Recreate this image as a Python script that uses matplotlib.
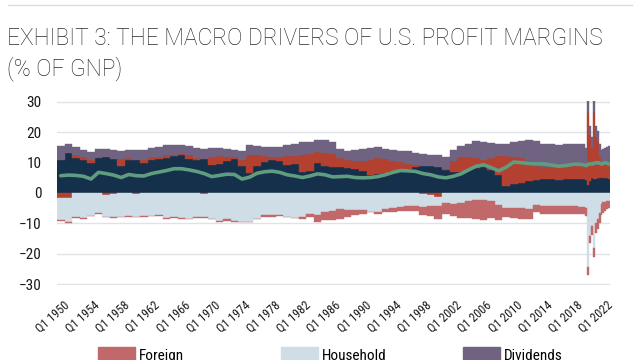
import numpy as np
import matplotlib
matplotlib.use("Agg")
import matplotlib.pyplot as plt
from matplotlib import font_manager
from matplotlib.patches import Patch
from matplotlib.lines import Line2D
import matplotlib.transforms as mtransforms

# ---------------- data (% of GNP) ----------------
years = list(range(1950, 2020))
investment = [11.0, 13.2, 11.5, 10.8, 9.8, 11.6, 11.8, 11.2, 8.8, 11.0,
              11.0, 9.8, 11.0, 11.3, 11.6, 12.3, 12.6, 11.2, 11.0, 11.2,
              9.2, 9.5, 10.5, 11.2, 8.8, 6.5, 9.0, 10.3, 11.0, 10.7,
              9.2, 9.6, 7.0, 7.4, 9.8, 9.0, 8.5, 8.4, 8.2, 8.0,
              7.1, 5.9, 6.2, 6.6, 7.3, 7.4, 7.8, 8.5, 8.9, 8.8,
              8.7, 7.5, 6.9, 7.0, 7.7, 8.2, 8.5, 7.6, 5.9, 2.2,
              3.0, 3.4, 3.9, 4.2, 4.5, 4.5, 4.3, 4.5, 4.7, 4.7]
government = [-1.5, -1.8, 1.0, 1.2, 1.2, 0.2, -0.6, -0.4, 2.4, 0.4,
              -0.4, 1.2, 0.8, 0.4, 0.8, 0.2, 0.3, 1.2, 0.6, -0.4,
              2.5, 2.6, 1.3, 0.5, 2.0, 6.0, 3.5, 2.0, 1.0, 1.0,
              3.0, 2.6, 5.5, 5.5, 3.8, 4.2, 4.4, 3.2, 2.6, 2.5,
              3.5, 5.0, 5.4, 4.6, 3.4, 2.7, 1.8, 0.6, -0.4, -0.8,
              -1.3, 0.3, 3.8, 4.8, 4.0, 3.2, 2.4, 3.8, 6.4, 10.0,
              9.0, 8.1, 6.6, 4.8, 4.0, 4.0, 4.3, 4.0, 4.3, 4.6]
household = [-7.4, -7.6, -8.0, -8.1, -7.6, -6.7, -7.3, -7.6, -7.8, -7.5,
             -7.4, -7.7, -7.6, -7.4, -8.2, -8.0, -8.2, -8.6, -7.9, -7.6,
             -8.6, -9.2, -8.6, -9.3, -9.4, -9.6, -8.5, -7.3, -7.2, -7.4,
             -7.9, -8.1, -8.0, -6.8, -7.2, -6.2, -5.8, -5.4, -5.7, -5.6,
             -5.6, -6.2, -6.3, -5.3, -4.9, -4.6, -4.4, -4.2, -4.3, -3.6,
             -3.0, -3.2, -3.5, -3.3, -2.6, -2.2, -2.4, -2.5, -3.8, -5.0,
             -4.8, -4.8, -5.2, -3.8, -4.2, -4.3, -4.2, -4.4, -4.3, -4.6]
foreign = [-0.4, -0.4, -0.2, -0.5, -0.1, -0.1, -0.1, -0.2, -0.1, -0.3,
           -0.2, -0.1, -0.1, -0.1, -0.2, -0.1, -0.2, -0.1, -0.2, -0.3,
           -0.1, -0.3, -0.5, -0.2, -0.3, -0.1, -0.1, -0.6, -0.6, -0.3,
           -0.1, -0.2, -0.4, -1.2, -2.4, -2.8, -3.2, -3.0, -2.2, -1.6,
           -1.2, -0.2, -0.6, -1.1, -1.5, -1.4, -1.6, -1.8, -2.6, -3.2,
           -4.1, -3.8, -4.2, -4.8, -5.7, -6.3, -6.6, -5.8, -5.1, -3.0,
           -3.4, -3.6, -3.4, -2.6, -2.6, -2.6, -2.6, -2.5, -2.5, -2.3]
dividends = [4.5, 3.0, 2.6, 2.3, 2.6, 2.6, 2.8, 2.9, 2.5, 2.6,
             3.0, 3.0, 3.0, 3.4, 3.3, 3.3, 3.0, 3.0, 3.1, 3.2,
             3.0, 2.6, 2.6, 2.5, 3.0, 3.2, 3.0, 3.0, 3.1, 3.3,
             3.6, 3.8, 4.3, 4.0, 3.8, 4.2, 3.8, 3.0, 3.1, 3.5,
             3.8, 3.8, 3.4, 3.3, 3.4, 3.8, 4.1, 4.2, 3.8, 3.8,
             3.8, 4.0, 3.3, 3.6, 4.5, 5.6, 6.0, 5.2, 3.7, 4.1,
             4.8, 5.5, 6.8, 8.0, 7.8, 7.5, 7.2, 7.5, 7.0, 6.7]
profit_margin = [5.7, 5.9, 5.8, 5.5, 4.6, 6.8, 6.4, 5.9, 5.1, 6.1,
                 5.7, 5.6, 6.4, 6.9, 7.4, 8.0, 8.0, 7.6, 7.1, 6.4,
                 5.4, 5.8, 6.2, 6.1, 4.6, 5.2, 6.5, 7.0, 7.2, 6.8,
                 6.0, 5.6, 5.1, 5.6, 6.3, 6.0, 5.3, 5.4, 5.5, 5.1,
                 5.0, 5.1, 5.4, 6.0, 6.8, 7.4, 7.3, 7.1, 6.4, 6.0,
                 5.3, 5.0, 5.5, 6.3, 7.6, 8.8, 9.3, 8.4, 7.3, 8.5,
                 10.2, 10.0, 9.7, 9.6, 9.6, 9.2, 8.8, 9.1, 9.5, 9.4]

recent_quarters = ["2020Q1", "2020Q2", "2020Q3", "2020Q4", "2021Q1", "2021Q2",
                   "2021Q3", "2021Q4", "2022Q1", "2022Q2", "2022Q3", "2022Q4",
                   "2023Q1"]
investment_q = [4.3, 2.5, 4.0, 4.8, 4.5, 4.6, 4.8, 5.0, 5.2, 5.0, 4.9, 4.8, 4.6]
government_q = [5.0, 24.0, 15.0, 10.0, 22.0, 14.0, 12.0, 7.0, 4.0, 4.5, 4.8, 5.0, 5.5]
household_q = [-5.0, -24.5, -14.0, -11.0, -18.0, -10.0, -8.5, -6.5, -3.5, -3.0, -2.8, -2.5, -2.5]
foreign_q = [-2.5, -2.5, -2.5, -2.8, -3.0, -3.2, -3.3, -3.5, -3.8, -3.6, -3.2, -2.8, -2.5]
dividends_q = [5.5, 4.0, 3.0, 3.5, 4.0, 3.5, 3.5, 4.0, 5.0, 5.0, 5.2, 5.5, 5.5]
profit_margin_q = [9.0, 9.5, 9.6, 9.5, 9.8, 9.9, 10.0, 9.8, 9.5, 9.8, 10.0, 9.8, 9.5]

# ---------------- fonts ----------------
avail = {f.name for f in font_manager.fontManager.ttflist}
def pick(*names):
    for n in names:
        if n in avail:
            return n
    return "DejaVu Sans"
cond_font = pick("Roboto Condensed", "Liberation Sans Narrow", "Roboto")
title_font = pick("Roboto", "Lato", "DejaVu Sans")

NAVY = "#15304a"
RED = "#b4402f"
PINK = "#c1686b"
LIGHT = "#cfdde6"
PURPLE = "#6f6381"
GREEN = "#5f9c80"
GRID = "#dde3e6"

# ---------------- periods -> quarter index positions ----------------
lefts, widths, centers = [], [], []
for y in years:
    k = (y - 1950) * 4
    lefts.append(k - 0.5)
    widths.append(4)
    centers.append(k + 1.5)
for q in recent_quarters:
    k = (int(q[:4]) - 1950) * 4 + int(q[-1]) - 1
    lefts.append(k - 0.5)
    widths.append(1)
    centers.append(k)
last_k = centers[-1]

inv = np.array(investment + investment_q)
gov = np.array(government + government_q)
hh = np.array(household + household_q)
fgn = np.array(foreign + foreign_q)
div = np.array(dividends + dividends_q)
margin = np.array(profit_margin + profit_margin_q)

fig = plt.figure(figsize=(6.4, 3.6), dpi=100)
ax = fig.add_axes([57 / 640, 75 / 360, 553 / 640, 184 / 360])

series = [("Investment", inv, NAVY), ("Government", gov, RED),
          ("Household", hh, LIGHT), ("Foreign", fgn, PINK),
          ("Dividends", div, PURPLE)]
pos = np.zeros(len(inv))
neg = np.zeros(len(inv))
for name, v, col in series:
    base = np.where(v >= 0, pos, neg)
    ax.bar(lefts, v, width=widths, bottom=base, align="edge", color=col,
           edgecolor=col, linewidth=0.3, zorder=2)
    pos += np.where(v > 0, v, 0)
    neg += np.where(v < 0, v, 0)

ax.plot(centers, margin, color=GREEN, lw=2.6, zorder=3, solid_joinstyle="round",
        solid_capstyle="round")

ax.set_ylim(-30.3, 30.3)
ax.set_xlim(-0.5, last_k + 0.5)
ax.set_yticks(range(-30, 31, 10))
ax.grid(axis="y", color=GRID, lw=1, zorder=0)
ax.set_axisbelow(True)
for s in ax.spines.values():
    s.set_visible(False)

xt = list(range(0, last_k, 16))
ax.set_xticks(xt)
ax.set_xticklabels([f"Q1 {1950 + k // 4}" for k in xt])
ax.tick_params(axis="y", length=0, pad=11, labelsize=11, labelcolor="#1a1a1a")
ax.tick_params(axis="x", length=0, pad=10, labelsize=8.8, labelcolor="#1a1a1a")
for lab in ax.get_yticklabels():
    lab.set_fontfamily(cond_font)
off = mtransforms.ScaledTranslation(5 / 100, 0, fig.dpi_scale_trans)
for lab in ax.get_xticklabels():
    lab.set_fontfamily(cond_font)
    lab.set_rotation(42)
    lab.set_ha("right")
    lab.set_va("top")
    lab.set_rotation_mode("anchor")
    lab.set_transform(lab.get_transform() + off)

# title and top rule
fig.add_artist(Line2D([8 / 640, 632 / 640], [1 - 5 / 360] * 2, color="#d5dde1", lw=1))
fig.text(7 / 640, 1 - 45 / 360, "EXHIBIT 3: THE MACRO DRIVERS OF U.S. PROFIT MARGINS",
         fontsize=16.4, fontweight="light", family=title_font, color="#2b2b2b", va="baseline")
fig.text(7 / 640, 1 - 75 / 360, "(% OF GNP)",
         fontsize=16.4, fontweight="light", family=title_font, color="#2b2b2b", va="baseline")

# legend (one entry per column, only first row visible)
for label, col, xpx in [("Foreign", PINK, 98), ("Household", LIGHT, 281), ("Dividends", PURPLE, 463)]:
    fig.legend(handles=[Patch(facecolor=col, edgecolor=col)], labels=[label],
               loc="upper left", bbox_to_anchor=(xpx / 640, 1 - 347 / 360),
               frameon=False, borderpad=0, borderaxespad=0, handlelength=2.4,
               handleheight=1.1, handletextpad=0.3,
               prop={"family": cond_font, "size": 11})

fig.savefig("out.png", dpi=100)
